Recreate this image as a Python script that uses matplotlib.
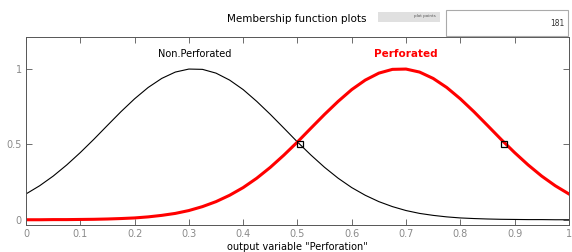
import numpy as np
import matplotlib
matplotlib.use('Agg')
import matplotlib.pyplot as plt
from matplotlib.patches import Rectangle

# values (step 0.025)
x_vals = [0.000, 0.025, 0.050, 0.075, 0.100, 0.125, 0.150, 0.175, 0.200, 0.225,
          0.250, 0.275, 0.300, 0.325, 0.350, 0.375, 0.400, 0.425, 0.450, 0.475,
          0.500, 0.525, 0.550, 0.575, 0.600, 0.625, 0.650, 0.675, 0.700, 0.725,
          0.750, 0.775, 0.800, 0.825, 0.850, 0.875, 0.900, 0.925, 0.950, 0.975, 1.000]
non_perf = [0.171, 0.225, 0.289, 0.363, 0.445, 0.533, 0.625, 0.716, 0.801, 0.876,
            0.936, 0.978, 0.998, 0.996, 0.971, 0.925, 0.862, 0.784, 0.698, 0.607,
            0.515, 0.428, 0.347, 0.275, 0.213, 0.162, 0.120, 0.087, 0.061, 0.042,
            0.029, 0.019, 0.012, 0.008, 0.005, 0.003, 0.002, 0.001, 0.001, 0.000, 0.000]
perf = [0.000, 0.000, 0.001, 0.001, 0.002, 0.003, 0.005, 0.008, 0.012, 0.019,
        0.029, 0.042, 0.061, 0.087, 0.120, 0.162, 0.213, 0.275, 0.347, 0.428,
        0.515, 0.607, 0.698, 0.784, 0.862, 0.925, 0.971, 0.996, 0.998, 0.978,
        0.936, 0.876, 0.801, 0.716, 0.625, 0.533, 0.445, 0.363, 0.289, 0.225, 0.171]
marker_x = [0.505, 0.88]
marker_y = [0.5, 0.5]
xticks = [0, 0.1, 0.2, 0.3, 0.4, 0.5, 0.6, 0.7, 0.8, 0.9, 1]
xticklabels = ['0', '0.1', '0.2', '0.3', '0.4', '0.5', '0.6', '0.7', '0.8', '0.9', '1']
yticks = [0, 0.5, 1]
yticklabels = ['0', '0.5', '1']
n_points = '181'

fig = plt.figure(figsize=(5.72, 2.52), dpi=100)
ax = fig.add_axes([0.0455, 0.107, 0.949, 0.746])

ax.plot(x_vals, non_perf, color='k', lw=0.8)
ax.plot(x_vals, perf, color='#ff0000', lw=2.2, solid_joinstyle='round')
ax.plot(marker_x, marker_y, 's', ms=4.5, mfc='none', mec='k', mew=0.9)

ax.set_xlim(0, 1)
ax.set_ylim(-0.035, 1.21)
ax.set_xticks(xticks)
ax.set_xticklabels(xticklabels)
ax.set_yticks(yticks)
ax.set_yticklabels(yticklabels)
ax.tick_params(direction='in', top=True, right=True, length=4, width=0.6,
               color='#555555', labelsize=7, labelcolor='#8a8a8a', pad=3)
for s in ax.spines.values():
    s.set_color('#555555')
    s.set_linewidth(0.7)

ax.text(0.31, 1.10, 'Non.Perforated', ha='center', va='center', fontsize=7, color='k')
ax.text(0.70, 1.10, 'Perforated', ha='center', va='center', fontsize=7.5,
        color='#ff0000', fontweight='bold')

ax.set_xlabel('output variable "Perforation"', fontsize=7, labelpad=2)

fig.text(0.518, 0.925, 'Membership function plots', ha='center', va='center', fontsize=7.5)

# "plot points" control boxes
fig.patches.append(Rectangle((378 / 572, 1 - 22 / 252), 62 / 572, 10 / 252,
                             transform=fig.transFigure, facecolor='#e0e0e0',
                             edgecolor='none'))
fig.text(436 / 572, 1 - 16 / 252, 'plot points', ha='right', va='center',
         fontsize=3, color='#555555')
fig.patches.append(Rectangle((446 / 572, 1 - 36 / 252), 122 / 572, 26 / 252,
                             transform=fig.transFigure, facecolor='white',
                             edgecolor='#aaaaaa', lw=0.8))
fig.text(564 / 572, 1 - 23 / 252, n_points, ha='right', va='center',
         fontsize=5.5, color='#333333')

fig.savefig('out.png', dpi=100)
